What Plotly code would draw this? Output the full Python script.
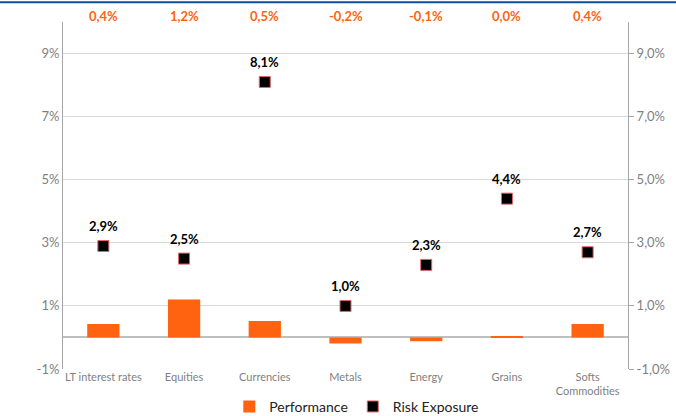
import plotly.graph_objects as go

categories = ["LT interest rates", "Equities", "Currencies", "Metals", "Energy", "Grains", "Softs<br>Commodities"]
performance = [0.43, 1.2, 0.52, -0.19, -0.12, 0.02, 0.43]
performance_labels = ["0,4%", "1,2%", "0,5%", "-0,2%", "-0,1%", "0,0%", "0,4%"]
risk_exposure = [2.9, 2.5, 8.1, 1.0, 2.3, 4.4, 2.7]
risk_labels = ["2,9%", "2,5%", "8,1%", "1,0%", "2,3%", "4,4%", "2,7%"]
tick_vals = [-1, 1, 3, 5, 7, 9]
left_tick_text = ["-1%", "1%", "3%", "5%", "7%", "9%"]
right_tick_text = ["-1,0%", "1,0%", "3,0%", "5,0%", "7,0%", "9,0%"]

ORANGE = "#FF6310"
FONT = "Lato, 'Open Sans', sans-serif"
GRAY = "#7f7f7f"

fig = go.Figure()
fig.add_trace(go.Bar(
    x=categories, y=performance, name="Performance",
    marker=dict(color=ORANGE, line=dict(width=0)), width=0.4,
))
fig.add_trace(go.Scatter(
    x=categories, y=risk_exposure, name="Risk Exposure", mode="markers",
    marker=dict(symbol="square", size=11, color="black", line=dict(color="#e06666", width=1)),
))
# same series bound to the secondary axis so that the right-hand axis is drawn
fig.add_trace(go.Scatter(
    x=categories, y=risk_exposure, yaxis="y2", mode="markers", showlegend=False,
    marker=dict(opacity=0), hoverinfo="skip",
))

for cat, val, lab in zip(categories, risk_exposure, risk_labels):
    fig.add_annotation(x=cat, y=val, text=lab, showarrow=False, yshift=20,
                       font=dict(family=FONT, size=13, color="black", weight="bold"))

for cat, lab in zip(categories, performance_labels):
    fig.add_annotation(x=cat, y=1.016, xref="x", yref="paper", text=lab, showarrow=False,
                       yanchor="middle", font=dict(family=FONT, size=13, color=ORANGE, weight="bold"))

# top blue rule
fig.add_shape(type="line", xref="paper", yref="paper", x0=-0.12, x1=1.09, y0=1.057, y1=1.057,
              line=dict(color="#0a4fa8", width=2))

fig.update_layout(
    width=676, height=416,
    margin=dict(l=63, r=48, t=22, b=47, autoexpand=False),
    paper_bgcolor="white", plot_bgcolor="white",
    font=dict(family=FONT, size=12, color=GRAY),
    showlegend=True,
    legend=dict(orientation="h", x=0.52, xanchor="center", yref="container", y=0.022, yanchor="middle",
                font=dict(family=FONT, size=14, color="#222222"),
                tracegroupgap=0),
    xaxis=dict(showgrid=False, showline=False, ticks="", automargin=False,
               tickfont=dict(size=11, color=GRAY)),
    yaxis=dict(range=[-1, 10], tickvals=tick_vals, ticktext=left_tick_text, automargin=False,
               showgrid=True, gridcolor="#d9d9d9", gridwidth=1,
               zeroline=True, zerolinecolor="#bfbfbf", zerolinewidth=1.5,
               showline=True, linecolor="#a6a6a6", linewidth=1, ticks="",
               tickfont=dict(size=13, color=GRAY)),
    yaxis2=dict(range=[-1, 10], tickvals=tick_vals, ticktext=right_tick_text, overlaying="y",
                side="right", showgrid=False, zeroline=False, automargin=False,
                showline=True, linecolor="#a6a6a6", linewidth=1, ticks="outside",
                ticklen=5, tickcolor="#a6a6a6", tickfont=dict(size=13, color=GRAY)),
)
fig.write_html("out.html", config={"displayModeBar": False},
               post_script="document.body.style.margin='0';")
